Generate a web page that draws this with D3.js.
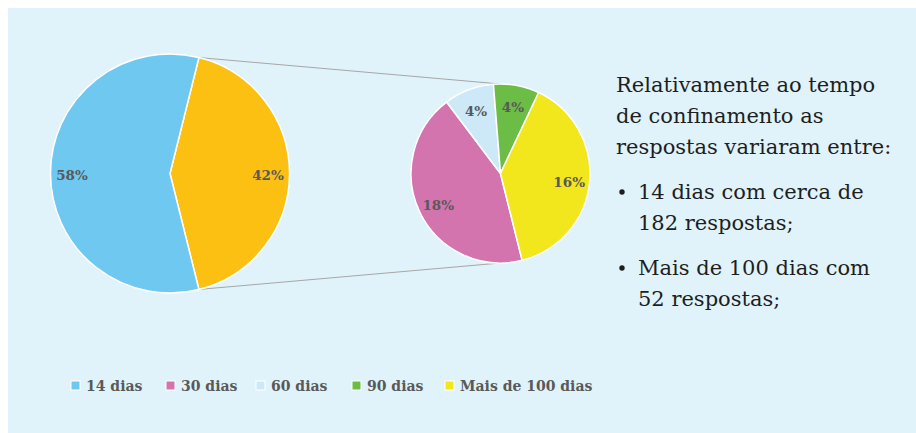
<!DOCTYPE html>
<html lang="pt">
<head>
    <meta charset="UTF-8">
    <title>Tempo de confinamento</title>
    <style>
        body { margin: 0; background: #fff; }
        svg { display: block; }
    </style>
</head>
<body>
    <svg id="chart" width="916" height="433"></svg>

    <script src="https://d3js.org/d3.v7.min.js"></script>

    <script>
        // Data (approximate counts; 14 dias ~182, Mais de 100 dias ~52)
        const categories = ["14 dias", "30 dias", "60 dias", "90 dias", "Mais de 100 dias"];
        const counts = [182, 58, 12, 11, 52];
        const colors = ["#6fc8f0", "#d474ae", "#cde9f8", "#6cbd45", "#f2e61c"];
        const otherColor = "#fcc012";

        // first pie: "14 dias" vs the rest; second pie: breakdown of the rest
        const mainLabels = ["58%", "42%"];
        const subLabels = ["18%", "4%", "4%", "16%"];

        const noteLines = [
            ["Relativamente ao tempo", "de confinamento as", "respostas variaram entre:"],
            ["14 dias com cerca de", "182 respostas;"],
            ["Mais de 100 dias com", "52 respostas;"]
        ];

        const svg = d3.select("#chart");

        // panel background
        svg.append("rect")
            .attr("x", 8).attr("y", 8)
            .attr("width", 908).attr("height", 425)
            .attr("fill", "#e0f3fa");

        const total = d3.sum(counts);
        const rest = d3.sum(counts.slice(1));
        const restAngle = rest / total * 2 * Math.PI;

        // pie centres / radii
        const c1 = { x: 170, y: 173.5, r: 119.5 };
        const c2 = { x: 500.5, y: 173.5, r: 89.5 };

        const pie1 = d3.pie().sort(null)
            .startAngle(Math.PI / 2 - restAngle / 2)
            .endAngle(Math.PI / 2 - restAngle / 2 + 2 * Math.PI);
        const mainData = [
            { name: "rest", value: rest, color: otherColor, label: mainLabels[1] },
            { name: categories[0], value: counts[0], color: colors[0], label: mainLabels[0] }
        ];
        const arcs1 = pie1.value(d => d.value)(mainData);

        const pie2 = d3.pie().sort(null)
            .startAngle(Math.PI / 2 + restAngle / 2)
            .endAngle(Math.PI / 2 + restAngle / 2 + 2 * Math.PI);
        const subData = categories.slice(1).map((name, i) => ({
            name, value: counts[i + 1], color: colors[i + 1], label: subLabels[i]
        }));
        const arcs2 = pie2.value(d => d.value)(subData);

        // connector lines from the "rest" slice edges to top/bottom of the second pie
        const restArc = arcs1[0];
        const unit = a => [Math.sin(a), -Math.cos(a)];
        const pTop = unit(restArc.startAngle), pBot = unit(restArc.endAngle);
        svg.append("line")
            .attr("x1", c1.x + c1.r * pTop[0]).attr("y1", c1.y + c1.r * pTop[1])
            .attr("x2", c2.x).attr("y2", c2.y - c2.r)
            .attr("stroke", "#a6a6a6").attr("stroke-width", 1);
        svg.append("line")
            .attr("x1", c1.x + c1.r * pBot[0]).attr("y1", c1.y + c1.r * pBot[1])
            .attr("x2", c2.x).attr("y2", c2.y + c2.r)
            .attr("stroke", "#a6a6a6").attr("stroke-width", 1);

        function drawPie(arcs, c, labelR) {
            const g = svg.append("g").attr("transform", `translate(${c.x},${c.y})`);
            const arc = d3.arc().innerRadius(0).outerRadius(c.r);
            const labelArc = d3.arc().innerRadius(labelR).outerRadius(labelR);
            g.selectAll("path")
                .data(arcs)
                .join("path")
                .attr("d", arc)
                .attr("fill", d => d.data.color)
                .attr("stroke", "#ffffff")
                .attr("stroke-width", 1.5)
                .attr("stroke-linejoin", "round");
            g.selectAll("text")
                .data(arcs)
                .join("text")
                .attr("transform", d => `translate(${labelArc.centroid(d)})`)
                .attr("text-anchor", "middle")
                .attr("dy", "0.5em")
                .style("font-family", "'DejaVu Serif', serif")
                .style("font-weight", "bold")
                .style("font-size", "13.5px")
                .style("fill", "#595959")
                .text(d => d.data.label);
        }

        drawPie(arcs1, c1, 98);
        drawPie(arcs2, c2, 69);

        // note text on the right
        const note = svg.append("g")
            .style("font-family", "'DejaVu Serif', serif")
            .style("font-size", "21px")
            .style("fill", "#1e1e1e");

        let y = 92;
        noteLines.forEach((block, bi) => {
            block.forEach((line, li) => {
                const x = bi === 0 ? 616 : 638;
                note.append("text").attr("x", x).attr("y", y).text(line);
                if (bi > 0 && li === 0) {
                    note.append("circle")
                        .attr("cx", 622).attr("cy", y - 7)
                        .attr("r", 2.7).attr("fill", "#1e1e1e");
                }
                y += 31;
            });
            y += 14;
        });

        // legend
        const legendX = [71, 166, 256, 352, 445];
        const legend = svg.append("g");
        categories.forEach((name, i) => {
            legend.append("rect")
                .attr("x", legendX[i]).attr("y", 381)
                .attr("width", 9).attr("height", 9)
                .attr("fill", colors[i])
                .attr("stroke", "#ffffff").attr("stroke-width", 1);
            legend.append("text")
                .attr("x", legendX[i] + 15).attr("y", 386)
                .attr("dy", "0.38em")
                .style("font-family", "'DejaVu Serif', serif")
                .style("font-weight", "bold")
                .style("font-size", "14px")
                .style("fill", "#595959")
                .text(name);
        });
    </script>
</body>
</html>
